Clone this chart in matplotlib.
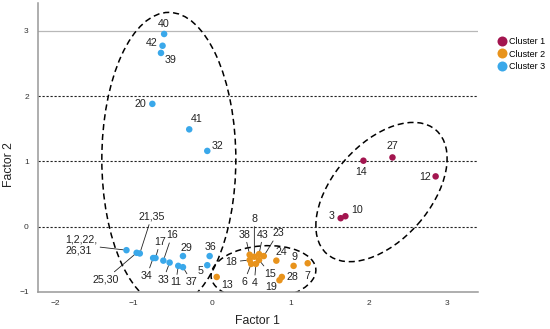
import matplotlib.pyplot as plt
from matplotlib.patches import Ellipse
from matplotlib.lines import Line2D
from matplotlib.transforms import ScaledTranslation

plt.rcParams['font.family'] = ['Liberation Sans', 'DejaVu Sans']

# Cluster 1
c1_labels = ['14', '27', '12', '3', '10']
c1_x = [1.93, 2.30, 2.85, 1.64, 1.70]
c1_y = [1.01, 1.06, 0.77, 0.13, 0.16]

# Cluster 2
c2_labels = ['13', '38', '8', '43', '23', '18', '6', '4', '15', '24', '9', '7', '28', '19']
c2_x = [0.06, 0.48, 0.54, 0.60, 0.66, 0.48, 0.50, 0.56, 0.60, 0.82, 1.04, 1.22, 0.89, 0.86]
c2_y = [-0.77, -0.43, -0.46, -0.42, -0.45, -0.51, -0.57, -0.57, -0.51, -0.52, -0.60, -0.56, -0.77, -0.82]

# Cluster 3
c3_labels = ['40', '42', '39', '20', '41', '32', '1,2,22,\n26,31', '25,30', '21,35', '34', '17',
             '16', '33', '29', '11', '37', '36', '5']
c3_x = [-0.61, -0.63, -0.65, -0.76, -0.29, -0.06, -1.09, -0.96, -0.92, -0.75, -0.72,
        -0.62, -0.54, -0.37, -0.43, -0.37, -0.03, -0.06]
c3_y = [2.95, 2.77, 2.66, 1.88, 1.49, 1.16, -0.36, -0.40, -0.41, -0.48, -0.48,
        -0.52, -0.55, -0.45, -0.60, -0.62, -0.45, -0.59]

cluster_names = ['Cluster 1', 'Cluster 2', 'Cluster 3']
colors = ['#a3154f', '#e8931c', '#3aa8ea']

# where each label text sits (data coords)
label_pos = {
    '14': (1.90, 0.84), '27': (2.30, 1.24), '12': (2.72, 0.76), '3': (1.52, 0.16), '10': (1.85, 0.25),
    '13': (0.19, -0.89), '38': (0.42, -0.12), '8': (0.54, 0.12), '43': (0.65, -0.12),
    '23': (0.84, -0.10), '18': (0.25, -0.54), '6': (0.41, -0.84), '4': (0.54, -0.86),
    '15': (0.74, -0.72), '24': (0.88, -0.39), '9': (1.05, -0.47), '7': (1.22, -0.75),
    '28': (1.02, -0.77), '19': (0.75, -0.93),
    '40': (-0.61, 3.10), '42': (-0.77, 2.81), '39': (-0.53, 2.55), '20': (-0.91, 1.88),
    '41': (-0.19, 1.65), '32': (0.07, 1.23), '1,2,22,\n26,31': (-1.87, -0.28),
    '25,30': (-1.36, -0.81), '21,35': (-0.77, 0.15), '34': (-0.83, -0.75), '17': (-0.66, -0.23),
    '16': (-0.51, -0.13), '33': (-0.62, -0.81), '29': (-0.33, -0.32), '11': (-0.46, -0.85),
    '37': (-0.26, -0.84), '36': (-0.02, -0.31), '5': (-0.15, -0.68),
}
leader = {'1,2,22,\n26,31', '25,30', '21,35', '34', '17', '16', '33', '11', '37',
          '8', '38', '43', '23', '18', '6', '4', '15'}

# ellipses: centre (data), width/height in inches, angle
ellipses = [
    ((2.16, 0.53), 1.65, 0.97, 48.5),
    ((0.656, -0.707), 1.05, 0.54, 4),
    ((-0.55, 1.03), 1.34, 2.94, 0),
]

fig = plt.figure(figsize=(5.5, 3.29), dpi=100)
ax = fig.add_axes([0.0687, 0.1125, 0.8004, 0.8775])

ax.set_xlim(-2.22, 3.39)
ax.set_ylim(-1, 3.42)

ax.axhline(3, color='#b8b8b8', lw=0.9, zorder=1)
for yv in [0, 1, 2]:
    ax.axhline(yv, color='#222222', lw=0.8, linestyle=(0, (2, 1.6)), zorder=1)

for (cx, cy), w, h, ang in ellipses:
    e = Ellipse((0, 0), w, h, angle=ang, fill=False, edgecolor='black', lw=1.1,
                linestyle=(0, (4, 2.5)),
                transform=fig.dpi_scale_trans + ScaledTranslation(cx, cy, ax.transData),
                zorder=2)
    ax.add_patch(e)

for labels, xs, ys, col in [(c1_labels, c1_x, c1_y, colors[0]),
                            (c2_labels, c2_x, c2_y, colors[1]),
                            (c3_labels, c3_x, c3_y, colors[2])]:
    ax.scatter(xs, ys, s=22, color=col, edgecolors='none', zorder=3)
    for lab, x, y in zip(labels, xs, ys):
        tx, ty = label_pos[lab]
        ha = 'left' if '\n' in lab else 'center'
        if lab in leader:
            ax.annotate(lab, xy=(x, y), xytext=(tx, ty), fontsize=7.7, color='#222222',
                        ha=ha, va='center', linespacing=1.1,
                        arrowprops=dict(arrowstyle='-', color='#222222', lw=0.6,
                                        shrinkA=0, shrinkB=2.5))
        else:
            ax.text(tx, ty, lab, fontsize=7.7, color='#222222', ha=ha, va='center')

for s in ['top', 'right']:
    ax.spines[s].set_visible(False)
for s in ['left', 'bottom']:
    ax.spines[s].set_color('#999999')
    ax.spines[s].set_linewidth(1.1)

ax.set_xticks([-2, -1, 0, 1, 2, 3])
ax.set_yticks([-1, 0, 1, 2, 3])
ax.tick_params(axis='both', length=0, labelsize=6, labelcolor='#333333')
ax.tick_params(axis='x', pad=5.5)
ax.tick_params(axis='y', pad=6.5)

ax.set_xlabel('Factor 1', fontsize=8.8, color='#222222')
ax.set_ylabel('Factor 2', fontsize=8.8, color='#222222')
ax.xaxis.set_label_coords(0.5, -0.08)
ax.yaxis.set_label_coords(-0.052, 0.443)

handles = [Line2D([], [], marker='o', linestyle='none', markersize=7.2,
                  markerfacecolor=c, markeredgecolor='none') for c in colors]
fig.legend(handles, cluster_names, loc='upper left', bbox_to_anchor=(0.907, 0.888),
           frameon=False, fontsize=6.5, handlelength=0.8, handletextpad=0.35,
           labelspacing=0.42, borderpad=0, borderaxespad=0)

fig.savefig('out.png', dpi=100)
